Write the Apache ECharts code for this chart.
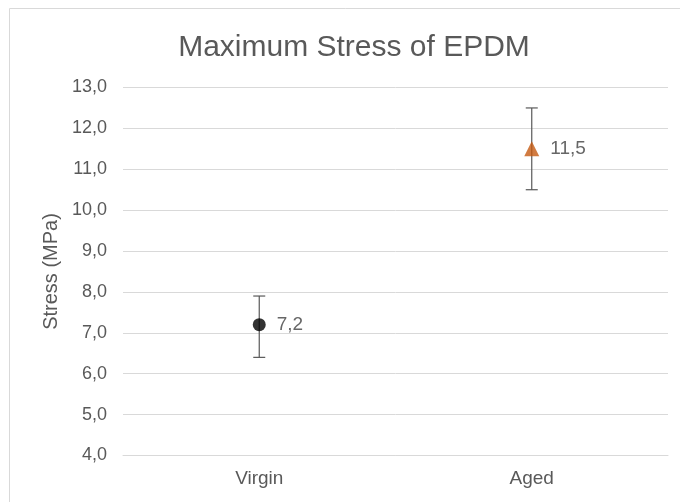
<!DOCTYPE html>
<html>
<head>
<meta charset="utf-8">
<script src="https://cdn.jsdelivr.net/npm/echarts@6/dist/echarts.min.js"></script>
<style>
  html, body { margin: 0; padding: 0; background: #fff; }
  #main { width: 680px; height: 502px; }
</style>
</head>
<body>
<div id="main"></div>
<script>
// data
var categories = ['Virgin', 'Aged'];
var stressMean = [7.2, 11.5];
var stressLow = [6.4, 10.5];
var stressHigh = [7.9, 12.5];
var yTicks = { min: 4, max: 13, interval: 1 };

var fmt = function (v) { return v.toFixed(1).replace('.', ','); };

var chart = echarts.init(document.getElementById('main'));

// error bar series data: [index, low, high]
var errData = categories.map(function (c, i) {
  return [i, stressLow[i], stressHigh[i]];
});

var option = {
  animation: false,
  textStyle: { fontFamily: 'Liberation Sans, Arial, sans-serif' },
  graphic: [{
    type: 'rect',
    shape: { x: 9.5, y: 8.5, width: 700, height: 600 },
    style: { fill: 'none', stroke: '#d9d9d9', lineWidth: 1 },
    silent: true
  }],
  title: {
    text: 'Maximum Stress of EPDM',
    left: 349,
    textAlign: 'center',
    top: 28,
    textStyle: { color: '#595959', fontSize: 30, fontWeight: 'normal' }
  },
  grid: { left: 123, right: 12, top: 87.5, bottom: 46.5 },
  xAxis: {
    type: 'category',
    data: categories,
    axisLine: { lineStyle: { color: '#d9d9d9' } },
    axisTick: { show: false },
    axisLabel: { color: '#595959', fontSize: 19, margin: 14 }
  },
  yAxis: {
    type: 'value',
    min: yTicks.min,
    max: yTicks.max,
    interval: yTicks.interval,
    name: 'Stress (MPa)',
    nameLocation: 'middle',
    nameGap: 58,
    nameTextStyle: { color: '#595959', fontSize: 20 },
    axisLine: { show: false },
    axisTick: { show: false },
    axisLabel: { color: '#595959', fontSize: 18, margin: 16, formatter: fmt },
    splitLine: { lineStyle: { color: '#d9d9d9' } }
  },
  series: [
    {
      type: 'custom',
      z: 1,
      data: errData,
      renderItem: function (params, api) {
        var x = api.value(0);
        var lo = api.coord([x, api.value(1)]);
        var hi = api.coord([x, api.value(2)]);
        var w = 6;
        var st = { stroke: '#595959', lineWidth: 1.2 };
        return {
          type: 'group',
          children: [
            { type: 'line', shape: { x1: lo[0], y1: lo[1], x2: hi[0], y2: hi[1] }, style: st },
            { type: 'line', shape: { x1: hi[0] - w, y1: hi[1], x2: hi[0] + w, y2: hi[1] }, style: st },
            { type: 'line', shape: { x1: lo[0] - w, y1: lo[1], x2: lo[0] + w, y2: lo[1] }, style: st }
          ]
        };
      }
    },
    {
      type: 'scatter',
      z: 3,
      data: [
        { value: [0, stressMean[0]], symbol: 'circle', symbolSize: 13, itemStyle: { color: '#000000' } },
        { value: [1, stressMean[1]], symbol: 'triangle', symbolSize: 15, itemStyle: { color: '#c55a11' } }
      ],
      label: {
        show: true,
        position: 'right',
        distance: 11,
        color: '#404040',
        fontSize: 19,
        formatter: function (p) { return fmt(p.value[1]); }
      }
    }
  ]
};

chart.setOption(option);
</script>
</body>
</html>
